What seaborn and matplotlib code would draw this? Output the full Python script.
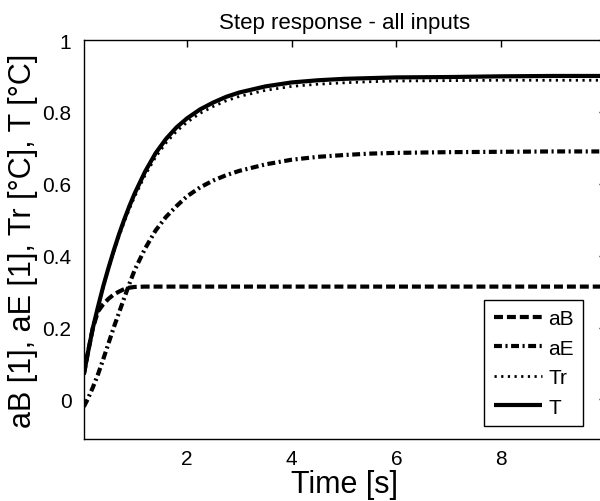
import matplotlib
matplotlib.use("Agg")
import matplotlib.pyplot as plt
import seaborn as sns
import pandas as pd
from matplotlib.ticker import FuncFormatter

sns.set_theme(style="white")
plt.rcParams['font.family'] = ['Liberation Sans', 'DejaVu Sans']

# ---- data ----
time = [0.03, 0.1, 0.2, 0.3, 0.4, 0.5, 0.6, 0.7, 0.8, 0.9, 1.0, 1.2, 1.4, 1.6,
        1.8, 2.0, 2.25, 2.5, 2.75, 3.0, 3.5, 4.0, 4.5, 5.0, 5.5, 6.0, 7.0,
        8.0, 9.0, 10.0]
aB = [0.07, 0.125, 0.198, 0.245, 0.265, 0.28, 0.292, 0.30, 0.307, 0.311, 0.313,
      0.314, 0.314, 0.314, 0.314, 0.314, 0.314, 0.314, 0.314, 0.314, 0.314,
      0.314, 0.314, 0.314, 0.314, 0.314, 0.314, 0.314, 0.314, 0.314]
aE = [-0.02, 0.0, 0.033, 0.07, 0.112, 0.156, 0.2, 0.241, 0.282, 0.322, 0.36,
      0.42, 0.47, 0.508, 0.538, 0.565, 0.59, 0.609, 0.624, 0.636, 0.654, 0.667,
      0.675, 0.68, 0.684, 0.686, 0.688, 0.689, 0.69, 0.69]
Tr = [0.07, 0.125, 0.197, 0.256, 0.312, 0.362, 0.409, 0.453, 0.493, 0.53, 0.564,
      0.624, 0.674, 0.714, 0.746, 0.771, 0.796, 0.815, 0.831, 0.843, 0.86,
      0.871, 0.877, 0.881, 0.884, 0.886, 0.887, 0.888, 0.888, 0.888]
T = [0.07, 0.125, 0.198, 0.258, 0.315, 0.366, 0.414, 0.459, 0.5, 0.538, 0.573,
     0.634, 0.685, 0.725, 0.757, 0.782, 0.807, 0.826, 0.842, 0.854, 0.871,
     0.882, 0.888, 0.892, 0.894, 0.896, 0.897, 0.899, 0.9, 0.9]

series_names = ["aB", "aE", "Tr", "T"]
series_values = [aB, aE, Tr, T]
x_ticks = [2, 4, 6, 8]
y_ticks = [0, 0.2, 0.4, 0.6, 0.8, 1.0]

title = "Step response - all inputs"
xlabel = "Time [s]"
ylabel = "aB [1], aE [1], Tr [°C], T [°C]"

styles = {
    "aB": dict(linestyle=(0, (2.15, 0.95)), linewidth=3.0),
    "aE": dict(linestyle=(0, (1.9, 0.85, 0.5, 0.85)), linewidth=3.0),
    "Tr": dict(linestyle=(0, (0.8, 1.6)), linewidth=2.0),
    "T": dict(linestyle="-", linewidth=3.0),
}

fig = plt.figure(figsize=(6.0, 5.02), dpi=100)
ax = fig.add_axes([0.1398, 0.1235, 0.8697, 0.7948])

for name, vals in zip(series_names, series_values):
    df = pd.DataFrame({"t": time, "v": vals})
    sns.lineplot(data=df, x="t", y="v", ax=ax, color="black", label=name,
                 solid_capstyle="butt", dash_capstyle="butt",
                 solid_joinstyle="round", **styles[name])

ax.set_xlim(0.03, 10.0)
ax.set_ylim(-0.11, 1.0)
ax.set_xticks(x_ticks)
ax.set_yticks(y_ticks)
ax.yaxis.set_major_formatter(FuncFormatter(lambda v, p: f"{v:g}"))
ax.tick_params(direction="in", length=5, width=1, colors="black",
               top=True, right=True, labelsize=15, pad=7)
ax.tick_params(axis="y", pad=9)
for s in ax.spines.values():
    s.set_color("black")
    s.set_linewidth(1.0)

ax.set_title(title, fontsize=16, pad=9, color="black")
ax.set_xlabel(xlabel, fontsize=22, labelpad=1, color="black")
ax.set_ylabel(ylabel, fontsize=22, labelpad=3, color="black")

leg = ax.legend(loc="lower right", bbox_to_anchor=(0.9565, 0.0326),
                borderaxespad=0, fancybox=False, framealpha=1,
                edgecolor="black", fontsize=15, handlelength=2.3,
                handletextpad=0.3, labelspacing=0.5, borderpad=0.45)
leg.get_frame().set_linewidth(1.0)
for t in leg.get_texts():
    t.set_color("black")

fig.savefig("out.png", dpi=100)
